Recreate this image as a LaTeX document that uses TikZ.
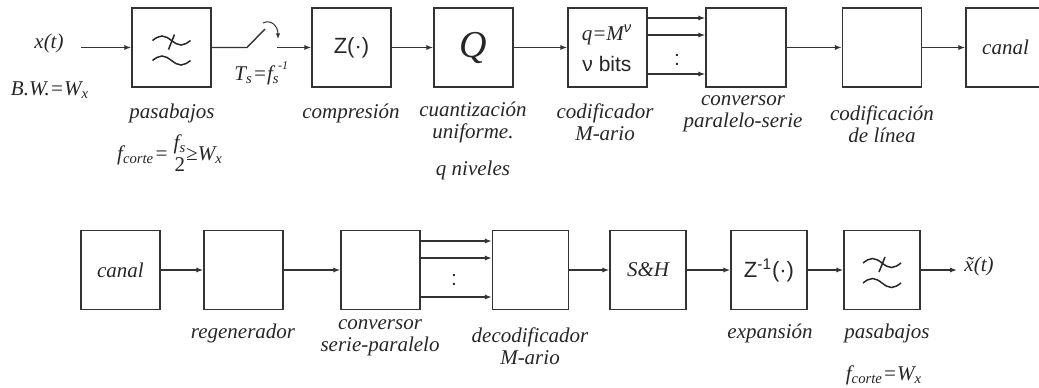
\documentclass[tikz,border=0pt]{standalone}
\usepackage{fontspec}
\setmainfont{Liberation Serif}
\newfontfamily\sansf{Liberation Sans}
\usetikzlibrary{arrows.meta}
\begin{document}
\begin{tikzpicture}[x=0.5pt,y=-0.5pt,
  every node/.style={text=black!85},
  blk/.style={draw=black!80,line width=0.7pt,minimum width=39.5pt,minimum height=39.5pt,inner sep=0pt},
  blkn/.style={blk,minimum width=38pt},
  lbl/.style={font=\fontsize{10.5}{11}\selectfont\itshape,align=center,inner sep=0pt},
  sf/.style={font=\sansf\fontsize{10.5}{11}\selectfont,inner sep=0pt},
  ln/.style={draw=black!80,line width=0.7pt},
  arr/.style={ln,-{Latex[length=3.5pt,width=2.6pt]}},
  lpf/.pic={
    \draw[black!85,line width=0.75pt] (-19,-7) sin (-9.5,-11.5) cos (0,-7) sin (9.5,-2.5) cos (19,-7);
    \draw[black!85,line width=0.75pt] (-19,13) sin (-9.5,8.5) cos (0,13) sin (9.5,17.5) cos (19,13);
    \draw[black!85,line width=0.75pt] (-3,2) -- (3,-13);
  }]
\useasboundingbox (0,0) rectangle (1039,387);

% ---------- top row ----------
\node[lbl] (xt) at (49,43) {x(t)};
\node[lbl] (bw) at (50,90) {B.W.=W\textsubscript{x}};
\coordinate (xin) at (81,47.5);
\node[blk] (lp1) at (171.5,47.5) {};
\pic at (lp1.center) {lpf};
\node[blk] (z1) at (351.5,47.5) {\sansf\fontsize{11}{12}\selectfont Z(·)};
\node[blk] (q1) at (473.5,47.5) {\fontsize{19}{20}\selectfont\itshape Q};
\node[blk] (cod) at (607.5,47.5) {};
\node[lbl] (codt1) at (607,35) {q=M\textsuperscript{\sansf ν}};
\node[sf] (codt2) at (607,64) {ν bits};
\node[blk,minimum width=40pt] (ps) at (746,47.5) {};
\node[blk] (lc) at (882,47.5) {};
\node[blk] (ch1) at (1005.5,47.5) {\fontsize{10.5}{11}\selectfont\itshape canal};

\draw[arr] (xin) -- (lp1.west);
\coordinate (sw1) at (247,47.5);
\coordinate (sw2) at (265,29);
\coordinate (sw3) at (277,47.5);
\draw[ln] (lp1.east) -- (sw1) -- (sw2);
\draw[arr] (sw3) -- (z1.west);
\coordinate (cv1) at (263,23);
\coordinate (cv2) at (278,39);
\draw[ln,-{Latex[length=2.8pt,width=2.2pt]},line width=0.5pt] (cv1) .. controls (271,19) and (278,26) .. (cv2);
\node[lbl] (ts) at (257,75) {T\textsubscript{s}=f\textsubscript{s}};
\node[lbl,font=\fontsize{6}{6}\selectfont\itshape] (tsm) at (283,66) {-1};

\draw[arr] (z1) -- (q1);
\draw[arr] (q1) -- (cod);
\draw[arr] (cod.east |- 0,18) -- (ps.west |- 0,18);
\draw[arr] (cod.east |- 0,35) -- (ps.west |- 0,35);
\draw[arr] (cod.east |- 0,74) -- (ps.west |- 0,74);
\node[sf] (dots1) at (677,60) {:};
\draw[arr] (ps) -- (lc);
\draw[arr] (lc) -- (ch1);

\node[lbl] (l1) at (172,113) {pasabajos};
\node[lbl] (l1b) at (170,153) {f\textsubscript{corte}= \raisebox{-0.55em}{\shortstack{f\textsubscript{s}\\[-1pt]\upshape 2}}≥W\textsubscript{x}};
\node[lbl] (l2) at (351,113) {compresión};
\node[lbl] (l3) at (473,122) {cuantización\\uniforme.};
\node[lbl] (l3b) at (473,170) {q niveles};
\node[lbl] (l4) at (605,122) {codificador\\M-ario};
\node[lbl] (l5) at (743,114) {conversor\\paralelo-serie};
\node[lbl] (l6) at (882,124) {codificación\\de línea};

% ---------- bottom row ----------
\node[blk] (ch2) at (120.5,270) {\fontsize{10.5}{11}\selectfont\itshape canal};
\node[blk] (reg) at (243.5,270) {};
\node[blk] (sp) at (380.5,270) {};
\node[blkn] (dec) at (530.5,270) {};
\node[blkn] (sh) at (648,270) {\fontsize{10.5}{11}\selectfont\itshape S\&H};
\node[blkn] (zi) at (769,270) {\sansf\fontsize{11}{12}\selectfont Z\textsuperscript{-1}(·)};
\node[blkn] (lp2) at (882,270) {};
\pic at (lp2.center) {lpf};
\coordinate (xout) at (957,270);
\node[lbl] (xo) at (979,266) {\~{x}(t)};

\draw[arr] (ch2) -- (reg);
\draw[arr] (reg) -- (sp);
\draw[arr] (sp.east |- 0,241) -- (dec.west |- 0,241);
\draw[arr] (sp.east |- 0,258) -- (dec.west |- 0,258);
\draw[arr] (sp.east |- 0,297) -- (dec.west |- 0,297);
\node[sf] (dots2) at (454,280) {:};
\draw[arr] (dec) -- (sh);
\draw[arr] (sh) -- (zi);
\draw[arr] (zi) -- (lp2);
\draw[arr] (lp2) -- (xout);

\node[lbl] (m1) at (243,333) {regenerador};
\node[lbl] (m2) at (380,338) {conversor\\serie-paralelo};
\node[lbl] (m3) at (530,346) {decodificador\\M-ario};
\node[lbl] (m4) at (770,333) {expansión};
\node[lbl] (m5) at (887,333) {pasabajos};
\node[lbl] (m6) at (884,375) {f\textsubscript{corte}=W\textsubscript{x}};
\end{tikzpicture}
\end{document}
